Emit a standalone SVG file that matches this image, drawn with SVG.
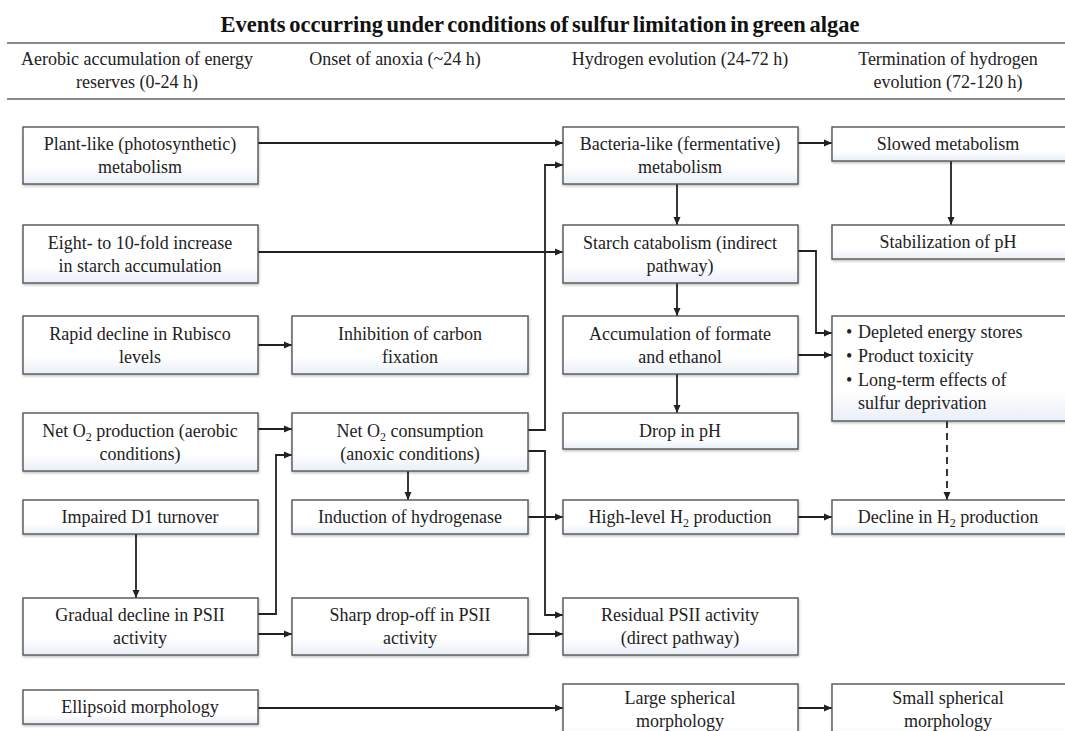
<svg xmlns="http://www.w3.org/2000/svg" width="1065" height="731" viewBox="0 0 1065 731">
<defs>
<linearGradient id="bg" x1="0" y1="0" x2="0" y2="1">
<stop offset="0.7" stop-color="#ffffff"/>
<stop offset="1" stop-color="#e9eff8"/>
</linearGradient>
<filter id="sh" x="-5%" y="-10%" width="110%" height="130%">
<feDropShadow dx="0.5" dy="1.5" stdDeviation="0.8" flood-color="#000" flood-opacity="0.25"/>
</filter>
<marker id="ah" markerUnits="userSpaceOnUse" markerWidth="9" markerHeight="8" refX="8" refY="4" orient="auto">
<path d="M0,0.5 L8,4 L0,7.5 z" fill="#222"/>
</marker>
</defs>
<style>
.box{fill:url(#bg);stroke:#555;stroke-width:1.4;filter:url(#sh)}
text{font-family:"Liberation Serif","Times New Roman",serif;font-size:18px;fill:#222}
.c{text-anchor:middle}
.title{font-weight:bold;font-size:22.5px;word-spacing:-2px;fill:#111}
.rule{stroke:#8a8a8a;stroke-width:2.2;fill:none}
.cn{fill:none;stroke:#222;stroke-width:1.8}
.ar{marker-end:url(#ah)}
.dash{stroke-dasharray:7,5}
</style>
<rect width="1065" height="731" fill="#fff"/>
<g id="header">
<text class="title c" x="540" y="32">Events occurring under conditions of sulfur limitation in green algae</text>
<line class="rule" x1="7" y1="43" x2="1065" y2="43"/>
<line class="rule" x1="7" y1="99" x2="1065" y2="99"/>
<text class="c" x="137" y="65">Aerobic accumulation of energy</text>
<text class="c" x="137" y="88">reserves (0-24 h)</text>
<text class="c" x="395" y="65">Onset of anoxia (~24 h)</text>
<text class="c" x="680" y="65">Hydrogen evolution (24-72 h)</text>
<text class="c" x="948" y="65">Termination of hydrogen</text>
<text class="c" x="948" y="88">evolution (72-120 h)</text>
</g>
<g id="connectors">
<path class="cn ar" d="M258,143 H563"/>
<path class="cn ar" d="M258,252 H563"/>
<path class="cn ar" d="M258,345 H292"/>
<path class="cn ar" d="M258,429 H292"/>
<path class="cn ar" d="M258,614 H276 V455 H292"/>
<path class="cn ar" d="M528,430 H545 V165 H563"/>
<path class="cn ar" d="M528,451 H545 V615 H563"/>
<path class="cn ar" d="M408,471 V500"/>
<path class="cn ar" d="M528,517 H563"/>
<path class="cn ar" d="M798,517 H832"/>
<path class="cn ar" d="M136,534 V598"/>
<path class="cn ar" d="M258,634 H292"/>
<path class="cn ar" d="M528,634 H563"/>
<path class="cn ar" d="M258,708 H563"/>
<path class="cn ar" d="M798,708 H832"/>
<path class="cn ar" d="M798,143 H832"/>
<path class="cn ar" d="M951,161 V225"/>
<path class="cn ar" d="M677,184 V225"/>
<path class="cn ar" d="M677,283 V316"/>
<path class="cn ar" d="M677,374 V413"/>
<path class="cn ar" d="M798,251 H816 V333 H832"/>
<path class="cn ar" d="M798,355 H832"/>
<path class="cn ar dash" d="M947,421 V500"/>
</g>
<g id="n1"><rect class="box" x="23" y="127" width="235" height="57"/><text class="c" x="140" y="150">Plant-like (photosynthetic)</text><text class="c" x="140" y="173">metabolism</text></g>
<g id="n2"><rect class="box" x="23" y="225" width="235" height="58"/><text class="c" x="140" y="249">Eight- to 10-fold increase</text><text class="c" x="140" y="272">in starch accumulation</text></g>
<g id="n3"><rect class="box" x="23" y="316" width="235" height="58"/><text class="c" x="140" y="340">Rapid decline in Rubisco</text><text class="c" x="140" y="363">levels</text></g>
<g id="n4"><rect class="box" x="23" y="413" width="235" height="58"/><text class="c" x="140" y="437">Net O<tspan font-size="12" dy="4">2</tspan><tspan dy="-4"> production (aerobic</tspan></text><text class="c" x="140" y="460">conditions)</text></g>
<g id="n5"><rect class="box" x="23" y="500" width="235" height="34"/><text class="c" x="140" y="523">Impaired D1 turnover</text></g>
<g id="n6"><rect class="box" x="23" y="598" width="235" height="57"/><text class="c" x="140" y="621">Gradual decline in PSII</text><text class="c" x="140" y="644">activity</text></g>
<g id="n7"><rect class="box" x="23" y="690" width="235" height="34"/><text class="c" x="140" y="713">Ellipsoid morphology</text></g>
<g id="n8"><rect class="box" x="292" y="316" width="236" height="58"/><text class="c" x="410" y="340">Inhibition of carbon</text><text class="c" x="410" y="363">fixation</text></g>
<g id="n9"><rect class="box" x="292" y="413" width="236" height="58"/><text class="c" x="410" y="437">Net O<tspan font-size="12" dy="4">2</tspan><tspan dy="-4"> consumption</tspan></text><text class="c" x="410" y="460">(anoxic conditions)</text></g>
<g id="n10"><rect class="box" x="292" y="500" width="236" height="34"/><text class="c" x="410" y="523">Induction of hydrogenase</text></g>
<g id="n11"><rect class="box" x="292" y="598" width="236" height="57"/><text class="c" x="410" y="621">Sharp drop-off in PSII</text><text class="c" x="410" y="644">activity</text></g>
<g id="n12"><rect class="box" x="563" y="127" width="235" height="57"/><text class="c" x="680" y="150">Bacteria-like (fermentative)</text><text class="c" x="680" y="173">metabolism</text></g>
<g id="n13"><rect class="box" x="563" y="225" width="235" height="58"/><text class="c" x="680" y="249">Starch catabolism (indirect</text><text class="c" x="680" y="272">pathway)</text></g>
<g id="n14"><rect class="box" x="563" y="316" width="235" height="58"/><text class="c" x="680" y="340">Accumulation of formate</text><text class="c" x="680" y="363">and ethanol</text></g>
<g id="n15"><rect class="box" x="563" y="413" width="235" height="36"/><text class="c" x="680" y="437">Drop in pH</text></g>
<g id="n16"><rect class="box" x="563" y="500" width="235" height="34"/><text class="c" x="680" y="523">High-level H<tspan font-size="12" dy="4">2</tspan><tspan dy="-4"> production</tspan></text></g>
<g id="n17"><rect class="box" x="563" y="598" width="235" height="57"/><text class="c" x="680" y="621">Residual PSII activity</text><text class="c" x="680" y="644">(direct pathway)</text></g>
<g id="n18"><rect class="box" x="563" y="684" width="235" height="60"/><text class="c" x="680" y="704">Large spherical</text><text class="c" x="680" y="727">morphology</text></g>
<g id="n19"><rect class="box" x="832" y="127" width="235" height="34"/><text class="c" x="948" y="150">Slowed metabolism</text></g>
<g id="n20"><rect class="box" x="832" y="225" width="235" height="34"/><text class="c" x="948" y="248">Stabilization of pH</text></g>
<g id="n21"><rect class="box" x="832" y="316" width="235" height="105"/>
<text x="846" y="338">•</text><text x="858" y="338">Depleted energy stores</text>
<text x="846" y="362">•</text><text x="858" y="362">Product toxicity</text>
<text x="846" y="386">•</text><text x="858" y="386">Long-term effects of</text>
<text x="858" y="409">sulfur deprivation</text></g>
<g id="n22"><rect class="box" x="832" y="500" width="235" height="34"/><text class="c" x="948" y="523">Decline in H<tspan font-size="12" dy="4">2</tspan><tspan dy="-4"> production</tspan></text></g>
<g id="n23"><rect class="box" x="832" y="684" width="235" height="60"/><text class="c" x="948" y="704">Small spherical</text><text class="c" x="948" y="727">morphology</text></g>
</svg>
